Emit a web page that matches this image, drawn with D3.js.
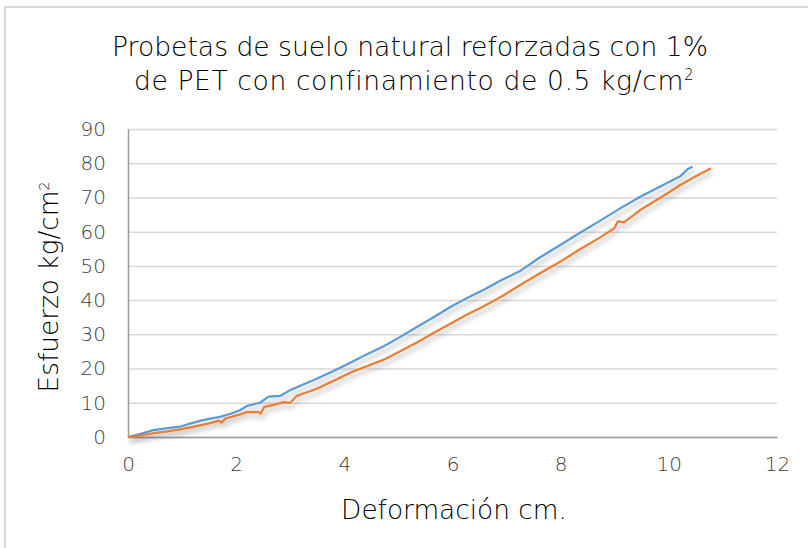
<!DOCTYPE html>
<html>
<head>
<meta charset="utf-8">
<script src="https://cdn.jsdelivr.net/npm/d3@7"></script>
<style>
  body { margin: 0; background: #fff; }
  svg { display: block; font-family: "DejaVu Sans", sans-serif; }
</style>
</head>
<body>
<div id="chart"></div>
<script>
const blueX = [0, 0.25, 0.47, 0.7, 0.96, 1.15, 1.33, 1.5, 1.7, 1.9, 2.07, 2.19, 2.44, 2.6, 2.81, 3.0, 3.25, 3.49, 3.8, 4.11, 4.4, 4.73, 5.05, 5.35, 5.65, 5.96, 6.27, 6.58, 6.9, 7.26, 7.6, 8.0, 8.35, 8.74, 9.1, 9.48, 9.85, 10.22, 10.35, 10.44];
const blueY = [0, 1.0, 2.0, 2.5, 3.0, 3.9, 4.7, 5.3, 5.9, 6.8, 7.8, 9.0, 10.0, 11.8, 12.0, 13.7, 15.4, 17.0, 19.3, 21.7, 24.0, 26.5, 29.4, 32.2, 35.0, 38.0, 40.6, 43.0, 45.8, 48.6, 52.3, 56.2, 59.6, 63.3, 66.8, 70.3, 73.3, 76.3, 78.3, 79.0];

const orangeX = [0, 0.25, 0.47, 0.7, 0.96, 1.15, 1.33, 1.5, 1.68, 1.73, 1.8, 2.07, 2.2, 2.41, 2.45, 2.52, 2.7, 2.88, 3.0, 3.12, 3.3, 3.49, 3.8, 4.11, 4.4, 4.73, 5.05, 5.35, 5.65, 5.96, 6.27, 6.58, 6.9, 7.26, 7.6, 8.0, 8.35, 8.74, 8.99, 9.06, 9.17, 9.48, 9.85, 10.22, 10.5, 10.78];
const orangeY = [0, 0.5, 1.1, 1.6, 2.2, 2.8, 3.4, 4.0, 4.8, 4.2, 5.4, 6.6, 7.3, 7.3, 6.8, 8.8, 9.4, 10.2, 10.0, 12.0, 13.0, 14.1, 16.4, 18.8, 20.6, 22.6, 25.2, 27.7, 30.4, 33.1, 35.8, 38.2, 41.0, 44.5, 47.7, 51.3, 54.8, 58.4, 61.0, 63.0, 62.7, 66.4, 70.0, 73.7, 76.2, 78.5];

const xTicks = [0, 2, 4, 6, 8, 10, 12];
const yTicks = [0, 10, 20, 30, 40, 50, 60, 70, 80, 90];

const W = 808, H = 548;
const margin = { top: 129, right: 31, bottom: 111, left: 128 };
const width = W - margin.left - margin.right,
  height = H - margin.top - margin.bottom;

const svg = d3.select("#chart").append("svg")
  .attr("width", W)
  .attr("height", H);

// shadow under the lines
const defs = svg.append("defs");
const f = defs.append("filter").attr("id", "shadow")
  .attr("x", "-10%").attr("y", "-10%").attr("width", "130%").attr("height", "130%");
f.append("feDropShadow")
  .attr("dx", 2).attr("dy", 4).attr("stdDeviation", 2.5)
  .attr("flood-color", "#000").attr("flood-opacity", 0.28);

// chart frame
svg.append("rect")
  .attr("x", 5).attr("y", 7)
  .attr("width", W + 20).attr("height", H + 20)
  .attr("fill", "#fff")
  .attr("stroke", "#d9d9d9")
  .attr("stroke-width", 2);

const g = svg.append("g")
  .attr("transform", `translate(${margin.left},${margin.top})`);

const x = d3.scaleLinear().domain([0, 12]).range([0, width]);
const y = d3.scaleLinear().domain([0, 90]).range([height, 0]);

// gridlines
g.append("g")
  .call(d3.axisLeft(y).tickValues(yTicks).tickSize(-width).tickFormat(""))
  .call(s => s.select(".domain").remove())
  .call(s => s.selectAll("line").attr("stroke", "#d9d9d9").attr("stroke-width", 1.5));

const tickStyle = s => s.selectAll("text")
  .attr("fill", "#404040")
  .style("font-size", "20px")
  .style("font-weight", "200")
  .style("font-family", "'DejaVu Sans', sans-serif");

// y axis
g.append("g")
  .call(d3.axisLeft(y).tickValues(yTicks).tickSize(0).tickPadding(22))
  .call(s => s.select(".domain").attr("stroke", "#9a9a9a").attr("stroke-width", 1.5))
  .call(tickStyle);

// x axis
g.append("g")
  .attr("transform", `translate(0,${height})`)
  .call(d3.axisBottom(x).tickValues(xTicks).tickSize(0).tickPadding(20))
  .call(s => s.select(".domain").attr("stroke", "#9a9a9a").attr("stroke-width", 1.5))
  .call(tickStyle);

const line = d3.line()
  .x(d => x(d[0]))
  .y(d => y(d[1]));

const series = [
  { xs: blueX, ys: blueY, color: "#5b9bd5" },
  { xs: orangeX, ys: orangeY, color: "#ed7d31" }
];

series.forEach(s => {
  g.append("path")
    .datum(s.xs.map((v, i) => [v, s.ys[i]]))
    .attr("fill", "none")
    .attr("stroke", s.color)
    .attr("stroke-width", 2.25)
    .attr("stroke-linejoin", "round")
    .attr("filter", "url(#shadow)")
    .attr("d", line);
});

// fit a text element to a target width by scaling font-size
function fit(sel, target) {
  const fs = parseFloat(sel.style("font-size"));
  const w = sel.node().getComputedTextLength();
  sel.style("font-size", (fs * target / w) + "px");
}
// widen by letter spacing instead
function spread(sel, target) {
  const w = sel.node().getComputedTextLength();
  const n = sel.text().length;
  sel.style("letter-spacing", ((target - w) / n) + "px");
}

// title
const t1 = svg.append("text")
  .attr("x", 410).attr("y", 56)
  .attr("text-anchor", "middle")
  .attr("fill", "#000")
  .style("font-size", "24px")
  .style("font-weight", "200")
  .text("Probetas de suelo natural reforzadas con 1%");
fit(t1, 596);

const t2 = svg.append("text")
  .attr("x", 414).attr("y", 90)
  .attr("text-anchor", "middle")
  .attr("fill", "#000")
  .style("font-size", t1.style("font-size"))
  .style("font-weight", "200")
  .text("de PET con confinamiento de 0.5 kg/cm");
spread(t2, 550);
t2.append("tspan").attr("dy", -10).style("font-size", "15px").text("2");

// axis titles
const xt = svg.append("text")
  .attr("x", 454)
  .attr("y", 519)
  .attr("text-anchor", "middle")
  .attr("fill", "#000")
  .style("font-size", "22px")
  .style("font-weight", "200")
  .text("Deformación cm.");
fit(xt, 226);

const yt = svg.append("text")
  .attr("transform", `translate(58,${margin.top + height / 2 + 4}) rotate(-90)`)
  .attr("text-anchor", "middle")
  .attr("fill", "#000")
  .style("font-size", xt.style("font-size"))
  .style("font-weight", "200")
  .text("Esfuerzo kg/cm");
yt.append("tspan").attr("dy", -9).style("font-size", "14px").text("2");
</script>
</body>
</html>
